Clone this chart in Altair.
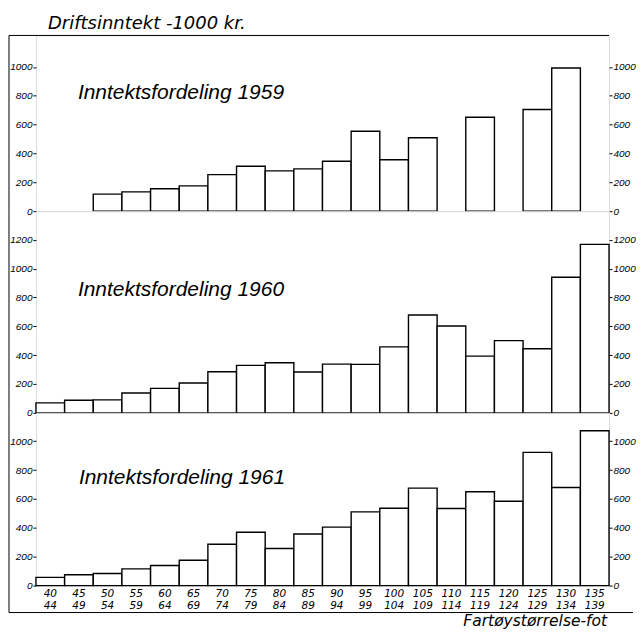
import altair as alt
import pandas as pd

categories = ["40 44", "45 49", "50 54", "55 59", "60 64", "65 69", "70 74",
              "75 79", "80 84", "85 89", "90 94", "95 99", "100 104", "105 109",
              "110 114", "115 119", "120 124", "125 129", "130 134", "135 139"]

values_1959 = [None, None, 118, 134, 155, 175, 253, 311, 279, 293, 346, 554,
               356, 509, None, 651, None, 705, 992, None]
values_1960 = [69, 87, 90, 138, 170, 207, 285, 329, 347, 283, 338, 336,
               457, 678, 602, 393, 501, 444, 940, 1168]
values_1961 = [57, 75, 84, 116, 139, 175, 286, 370, 257, 357, 405, 511,
               536, 675, 534, 650, 584, 923, 680, 1073]

panel_labels = ["Inntektsfordeling 1959", "Inntektsfordeling 1960", "Inntektsfordeling 1961"]
y_title = "Driftsinntekt -1000 kr."
x_title = "Fartøystørrelse-fot"

tick_sets = [[0, 200, 400, 600, 800, 1000],
             [0, 200, 400, 600, 800, 1000, 1200],
             [0, 200, 400, 600, 800, 1000]]
domain_max = [1218, 1398, 1197]

W = 574
heights = [176, 202, 173]
label_pos = [(42, 58), (42, 79), (43, 65)]

LABEL_FONT = "Liberation Sans"
TEXT_FONT = "DejaVu Sans"


def one(text):
    return pd.DataFrame({"t": [text]})


def panel(i, values):
    h = heights[i]
    df = pd.DataFrame({"klasse": categories, "inntekt": values}).dropna()
    yscale = alt.Scale(domain=[0, domain_max[i]], nice=False, zero=True)
    if i == 2:
        xaxis = alt.Axis(title=None, labelAngle=0, ticks=False, domain=False,
                         labelExpr="split(datum.label, ' ')",
                         labelFont=TEXT_FONT, labelFontStyle="italic",
                         labelFontSize=10.5, labelLineHeight=12, labelPadding=3,
                         labelColor="black")
    else:
        xaxis = None
    x = alt.X("klasse:N", sort=categories,
              scale=alt.Scale(domain=categories, paddingInner=0, paddingOuter=0),
              axis=xaxis)
    common_axis = dict(title=None, values=tick_sets[i], format="d", domain=False,
                       grid=False, tickSize=3, tickColor="black", labelPadding=1,
                       labelFont=LABEL_FONT, labelFontStyle="italic",
                       labelFontSize=10, labelColor="black")
    base = alt.Chart(df)
    left = base.mark_bar(fill="white", stroke="black", strokeWidth=1.4).encode(
        x=x,
        y=alt.Y("inntekt:Q", scale=yscale, axis=alt.Axis(orient="left", **common_axis)),
    )
    right = base.mark_bar(opacity=0).encode(
        x=x,
        y=alt.Y("inntekt:Q", scale=yscale, axis=alt.Axis(orient="right", **common_axis)),
    )
    lx, ly = label_pos[i]
    ann = alt.Chart(one(panel_labels[i])).mark_text(
        align="left", baseline="middle", font=LABEL_FONT, fontStyle="italic",
        fontSize=21, color="black"
    ).encode(x=alt.value(lx), y=alt.value(ly), text="t:N")

    frame_bottom = h + 27 if i == 2 else h
    layers = [left, right, ann,
              alt.Chart(one("f")).mark_rule(color="black", strokeWidth=1).encode(
                  x=alt.value(-27), y=alt.value(0), y2=alt.value(frame_bottom))]
    if i == 0:
        layers.append(alt.Chart(one("f")).mark_rule(color="black", strokeWidth=1).encode(
            x=alt.value(-27), x2=alt.value(W), y=alt.value(0)))
        layers.append(alt.Chart(one(y_title)).mark_text(
            align="left", baseline="top", font=TEXT_FONT, fontStyle="italic",
            fontSize=18, color="black"
        ).encode(x=alt.value(12), y=alt.value(-20), text="t:N"))
    if i == 2:
        layers.append(alt.Chart(one("f")).mark_rule(color="black", strokeWidth=1).encode(
            x=alt.value(-27), x2=alt.value(W + 24), y=alt.value(frame_bottom)))
        layers.append(alt.Chart(one(x_title)).mark_text(
            align="right", baseline="alphabetic", font=TEXT_FONT, fontStyle="italic",
            fontSize=15.5, color="black"
        ).encode(x=alt.value(W - 2), y=alt.value(h + 40), text="t:N"))
    return alt.layer(*layers).resolve_axis(y="independent").properties(width=W, height=h)


chart = alt.vconcat(
    panel(0, values_1959),
    panel(1, values_1960),
    panel(2, values_1961),
    spacing=0,
    bounds="flush",
).properties(
    padding={"left": 0, "top": 6, "right": 0, "bottom": 0}
).configure_view(
    stroke="black", strokeWidth=1
).configure(background="white")

chart.save("out.html", embed_options={"renderer": "svg", "actions": False})
